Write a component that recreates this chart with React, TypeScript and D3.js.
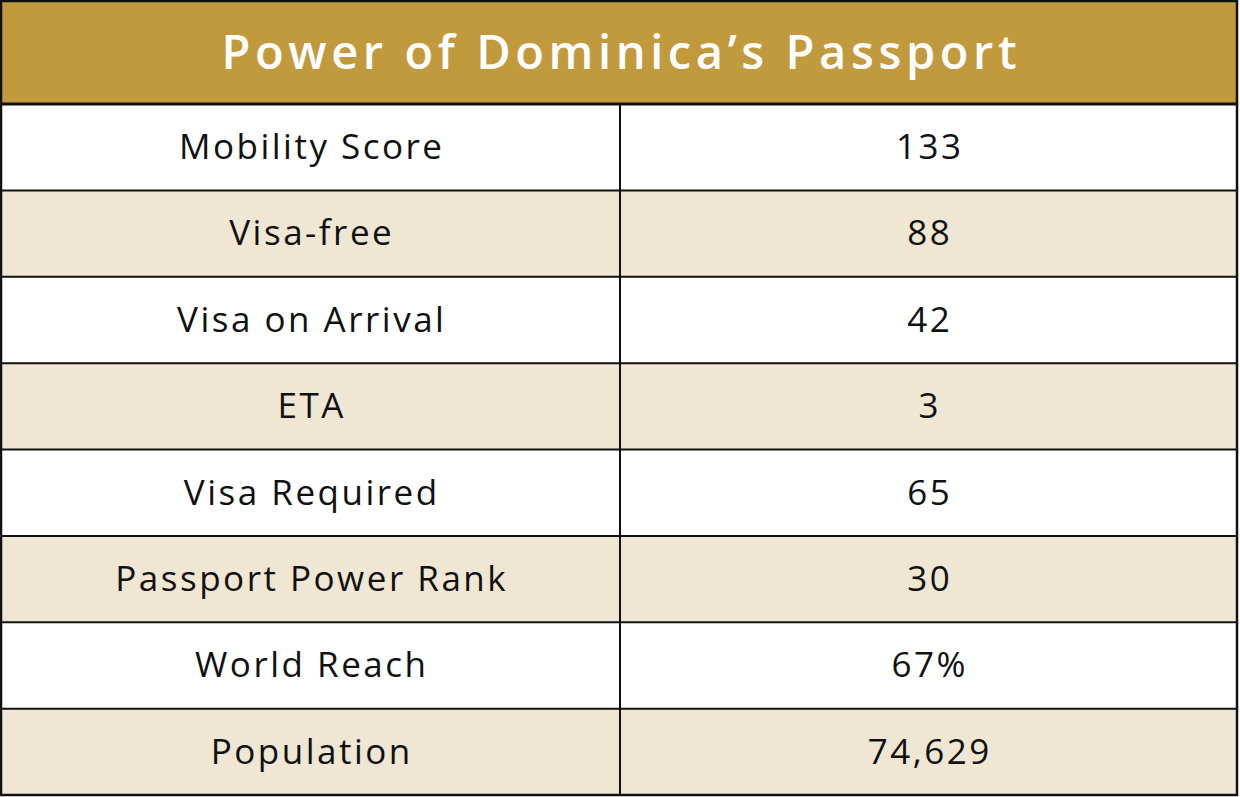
import React, { useEffect, useRef } from 'react'
import * as d3 from 'd3'

const title = 'Power of Dominica’s Passport'
const labels = [
  'Mobility Score',
  'Visa-free',
  'Visa on Arrival',
  'ETA',
  'Visa Required',
  'Passport Power Rank',
  'World Reach',
  'Population',
]
const values = ['133', '88', '42', '3', '65', '30', '67%', '74,629']

const W = 1240
const H = 797
const FONT = '"Open Sans", Lato, sans-serif'

export default function App() {
  const svgRef = useRef<SVGSVGElement>(null)

  useEffect(() => {
    if (!svgRef.current) return
    const svg = d3.select(svgRef.current)
    svg.selectAll('*').remove()

    const left = 1
    const right = 1237
    const headerTop = 1
    const headerBottom = 104
    const bottom = 795
    const split = 620
    const titleSpacing = 4.6
    const bodySpacing = 2.5

    const y = d3.scaleBand<number>().domain(d3.range(labels.length)).range([headerBottom, bottom])

    // header band
    svg.append('rect')
      .attr('x', left).attr('y', headerTop)
      .attr('width', right - left).attr('height', headerBottom - headerTop)
      .attr('fill', '#C19A3E')

    svg.append('text')
      .attr('x', (left + right) / 2 + titleSpacing / 2)
      .attr('y', (headerTop + headerBottom) / 2)
      .attr('dy', '0.36em')
      .attr('text-anchor', 'middle')
      .attr('font-family', FONT)
      .attr('font-weight', 600)
      .attr('font-size', 47)
      .attr('letter-spacing', titleSpacing)
      .attr('fill', '#fff')
      .text(title)

    // rows
    const rows = svg.append('g')
    labels.forEach((label, i) => {
      const ry = y(i) as number
      rows.append('rect')
        .attr('x', left).attr('y', ry)
        .attr('width', right - left).attr('height', y.bandwidth())
        .attr('fill', i % 2 === 0 ? '#ffffff' : '#EFE6D3')

      rows.append('text')
        .attr('x', (left + split) / 2 + bodySpacing / 2)
        .attr('y', ry + y.bandwidth() / 2)
        .attr('dy', '0.34em')
        .attr('text-anchor', 'middle')
        .attr('font-family', FONT)
        .attr('font-size', 35)
        .attr('letter-spacing', bodySpacing)
        .attr('fill', '#111')
        .text(label)

      rows.append('text')
        .attr('x', (split + right) / 2 + bodySpacing / 2)
        .attr('y', ry + y.bandwidth() / 2)
        .attr('dy', '0.34em')
        .attr('text-anchor', 'middle')
        .attr('font-family', FONT)
        .attr('font-size', 35)
        .attr('letter-spacing', bodySpacing)
        .attr('fill', '#111')
        .text(values[i])
    })

    // grid lines
    const lines = svg.append('g').attr('stroke', '#111')
    d3.range(1, labels.length).forEach(i => {
      lines.append('line')
        .attr('x1', left).attr('x2', right)
        .attr('y1', y(i) as number).attr('y2', y(i) as number)
        .attr('stroke-width', 2)
    })
    lines.append('line')
      .attr('x1', left).attr('x2', right)
      .attr('y1', headerBottom).attr('y2', headerBottom)
      .attr('stroke-width', 3)
    lines.append('line')
      .attr('x1', split).attr('x2', split)
      .attr('y1', headerBottom).attr('y2', bottom)
      .attr('stroke-width', 2)
    lines.append('rect')
      .attr('x', left).attr('y', headerTop)
      .attr('width', right - left).attr('height', bottom - headerTop)
      .attr('fill', 'none')
      .attr('stroke-width', 2.5)
  }, [])

  return (
    <svg
      ref={svgRef}
      width={W}
      height={H}
      style={{ position: 'absolute', left: 0, top: 0, background: '#fff' }}
    />
  )
}
